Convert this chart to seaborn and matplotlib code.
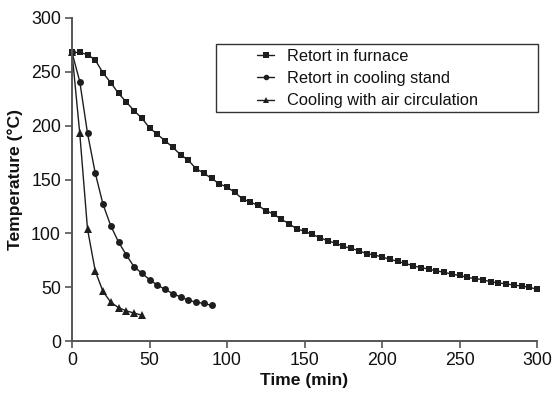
import numpy as np
import pandas as pd
import matplotlib
matplotlib.use("Agg")
import matplotlib.pyplot as plt
from matplotlib.patches import Rectangle
import seaborn as sns

# ---- data ----
furnace_time = list(range(0, 301, 5))
furnace_temp = [268, 268, 266, 261, 249, 240, 230, 222, 214, 207,
                198, 192, 186, 180, 173, 168, 160, 156, 151, 146,
                143, 138, 132, 129, 126, 121, 118, 113, 109, 104,
                102, 99, 96, 93, 91, 88, 86, 84, 81, 80,
                78, 76, 74, 72, 70, 68, 67, 65, 64, 62,
                61, 59, 58, 57, 55, 54, 53, 52, 51, 50, 48]

stand_time = list(range(0, 91, 5))
stand_temp = [268, 241, 193, 156, 127, 107, 92, 80, 69, 63,
              57, 52, 48, 44, 41, 38, 36, 35, 33]

air_time = list(range(0, 46, 5))
air_temp = [268, 193, 104, 65, 46, 36, 31, 28, 26, 24]

labels = ["Retort in furnace", "Retort in cooling stand", "Cooling with air circulation"]
x_ticks = [0, 50, 100, 150, 200, 250, 300]
y_ticks = [0, 50, 100, 150, 200, 250, 300]

sns.set_style("white")
plt.rcParams['font.family'] = ['Liberation Sans', 'DejaVu Sans']

W, H = 552, 394
fig = plt.figure(figsize=(W / 100, H / 100), dpi=100)
ax = fig.add_axes([72 / W, 1 - 341 / H, 465 / W, 323 / H])

ink = "#1e1e1e"
series = [(furnace_time, furnace_temp, "s", 4.6, labels[0]),
          (stand_time, stand_temp, "o", 5.0, labels[1]),
          (air_time, air_temp, "^", 5.2, labels[2])]
for t, v, m, ms, lab in series:
    df = pd.DataFrame({"t": t, "v": v})
    sns.lineplot(data=df, x="t", y="v", ax=ax, color=ink, marker=m,
                 markersize=ms, markeredgewidth=0, linewidth=1.0,
                 label=lab, clip_on=False)

ax.set_xlim(0, 300)
ax.set_ylim(0, 300)
ax.set_xticks(x_ticks)
ax.set_yticks(y_ticks)
ax.tick_params(axis="both", which="major", direction="out", length=5,
               width=1.2, color="#555555", labelsize=12.8, pad=3, labelcolor="#111111")
ax.tick_params(bottom=True, left=True)
for s in ["top", "right"]:
    ax.spines[s].set_visible(False)
for s in ["left", "bottom"]:
    ax.spines[s].set_color("#555555")
    ax.spines[s].set_linewidth(1.4)

ax.set_xlabel("Time (min)", fontsize=12.6, fontweight="bold", color="#111111", labelpad=3)
ax.set_ylabel("Temperature (°C)", fontsize=12.6, fontweight="bold", color="#111111", labelpad=6)

# legend entries (no frame), frame drawn as fixed box like the original
leg = ax.legend(loc="upper left", bbox_to_anchor=(257 / W, 1 - 49 / H),
                bbox_transform=fig.transFigure, frameon=False, fontsize=11.8,
                handlelength=1.05, handletextpad=0.8, borderpad=0,
                labelspacing=0.44, markerscale=0.8, borderaxespad=0)
for txt in leg.get_texts():
    txt.set_color("#111111")

box = Rectangle((215.5 / W, 1 - 112 / H), (537.5 - 215.5) / W, 68 / H,
                transform=fig.transFigure, fill=False, edgecolor="#333333",
                linewidth=1.0, clip_on=False)
fig.patches.append(box)

fig.savefig("out.png", dpi=100)
